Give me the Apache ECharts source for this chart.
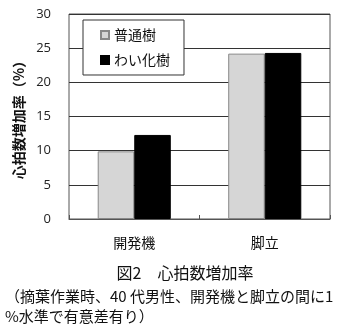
<!DOCTYPE html>
<html><head><meta charset="utf-8">
<script src="https://cdn.jsdelivr.net/npm/echarts@6/dist/echarts.min.js"></script>
<style>html,body{margin:0;padding:0;background:#fff}#c{width:344px;height:324px}</style>
</head><body><div id="c"></div>
<script>
const categories = ['開発機', '脚立'];
const seriesNames = ['普通樹', 'わい化樹'];
const normalTree = [9.9, 24.2];
const dwarfTree = [12.3, 24.3];
const yTicks = [0, 5, 10, 15, 20, 25, 30];
const cjk = '"Noto Sans CJK JP", sans-serif';
const chart = echarts.init(document.getElementById('c'));
chart.setOption({
  animation: false,
  backgroundColor: '#fff',
  grid: { left: 69, right: 14, top: 14, bottom: 105, show: true, borderColor: '#555', borderWidth: 1 },
  title: [
    { text: '図2　心拍数増加率', left: 180, top: 260, textAlign: 'center',
      textStyle: { fontFamily: cjk, fontSize: 16, fontWeight: 'normal', color: '#111' } },
    { text: '（摘葉作業時、40 代男性、開発機と脚立の間に1\n%水準で有意差有り）', left: 0, top: 281,
      textStyle: { fontFamily: cjk, fontSize: 15, fontWeight: 'normal', color: '#111', lineHeight: 20 } }
  ],
  legend: {
    orient: 'vertical', left: 83, top: 20,
    padding: [8, 14, 8, 17], itemGap: 11,
    borderColor: '#333', borderWidth: 1, backgroundColor: '#fff',
    itemWidth: 8, itemHeight: 8, icon: 'rect',
    textStyle: { fontFamily: cjk, fontSize: 14, color: '#111' },
    data: seriesNames
  },
  xAxis: {
    type: 'category', data: categories,
    axisLine: { lineStyle: { color: '#555' } },
    axisTick: { show: true, inside: true, length: 4, lineStyle: { color: '#555' } },
    axisLabel: { fontFamily: cjk, fontSize: 14, color: '#111', margin: 17 }
  },
  yAxis: {
    type: 'value', min: 0, max: 30, interval: 5,
    name: '心拍数増加率（%）', nameLocation: 'middle', nameGap: 38, nameRotate: 90,
    nameTextStyle: { fontFamily: cjk, fontSize: 14, fontWeight: 'bold', color: '#111' },
    axisLine: { show: false }, axisTick: { show: false },
    axisLabel: { fontFamily: '"Open Sans", sans-serif', fontSize: 13, color: '#222', margin: 18,
      formatter: v => yTicks.includes(v) ? String(v) : '' },
    splitLine: { lineStyle: { color: '#333', width: 1 } }
  },
  series: [
    { name: seriesNames[0], type: 'bar', data: normalTree, barGap: '0%', barCategoryGap: '44%',
      itemStyle: { color: '#d6d6d6', borderColor: '#888', borderWidth: 1 } },
    { name: seriesNames[1], type: 'bar', data: dwarfTree, barGap: '0%', barCategoryGap: '44%',
      itemStyle: { color: '#000', borderColor: '#000', borderWidth: 1 } }
  ]
});
</script></body></html>
